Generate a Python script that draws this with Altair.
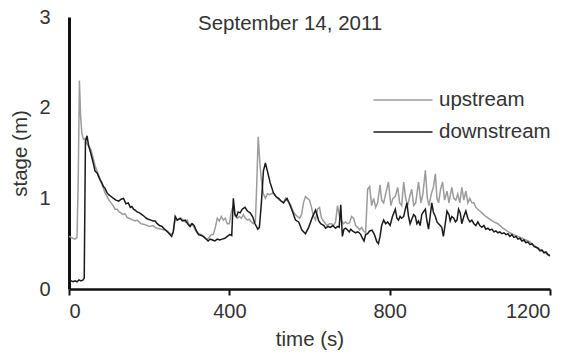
import altair as alt
import pandas as pd

FONT = "Liberation Sans"

# ---- upstream gauge (time in s, stage in m) ----
up_time = [
    0, 5, 10, 15, 20, 23, 26, 29, 32, 36,
    40, 45, 50, 55, 60, 65, 70, 75, 80, 85,
    90, 95, 100, 105, 110, 115, 120, 125, 130, 135,
    140, 145, 150, 160, 165, 170, 180, 190, 200, 210,
    215, 220, 230, 240, 250, 255, 260, 265, 270, 280,
    290, 295, 300, 305, 310, 315, 320, 330, 335, 340,
    345, 350, 355, 360, 365, 370, 375, 380, 385, 390,
    395, 400, 405, 410, 415, 420, 425, 430, 435, 440,
    445, 450, 455, 460, 465, 468, 472, 476, 480, 485,
    490, 495, 500, 505, 510, 515, 520, 525, 530, 535,
    540, 545, 550, 555, 560, 565, 570, 575, 580, 585,
    590, 595, 600, 605, 610, 615, 620, 625, 630, 635,
    640, 645, 650, 655, 660, 665, 670, 675, 680, 685,
    690, 695, 700, 705, 710, 715, 720, 725, 730, 735,
    740, 745, 750, 755, 760, 765, 770, 776, 780, 785,
    790, 797, 803, 808, 814, 820, 825, 830, 835, 840,
    845, 850, 855, 860, 865, 872, 878, 883, 889, 894,
    898, 904, 909, 914, 918, 922, 927, 932, 937, 943,
    948, 955, 960, 965, 970, 975, 980, 985, 990, 995,
    1000, 1005, 1010, 1015, 1020, 1025, 1030, 1040, 1050, 1060,
    1070, 1080, 1090, 1100, 1110, 1120, 1130, 1140, 1150, 1160,
    1170, 1180, 1190, 1200,
]
up_stage = [
    0.58, 0.57, 0.56, 0.55, 0.57, 1.20, 2.30, 1.90, 1.72, 1.65,
    1.66, 1.60, 1.57, 1.53, 1.45, 1.36, 1.30, 1.24, 1.18, 1.12,
    1.06, 1.02, 0.98, 0.95, 0.92, 0.88, 0.88, 0.85, 0.84, 0.82,
    0.83, 0.79, 0.78, 0.76, 0.75, 0.76, 0.72, 0.71, 0.69, 0.70,
    0.68, 0.67, 0.66, 0.65, 0.62, 0.60, 0.62, 0.78, 0.76, 0.78,
    0.74, 0.76, 0.70, 0.72, 0.70, 0.65, 0.62, 0.60, 0.58, 0.56,
    0.55, 0.57, 0.60, 0.60, 0.68, 0.78, 0.75, 0.80, 0.76, 0.78,
    0.72, 0.72, 0.85, 0.92, 0.80, 0.78, 0.80, 0.78, 0.82, 0.78,
    0.76, 0.77, 0.74, 0.72, 0.75, 1.10, 1.68, 1.40, 1.20, 1.05,
    1.00, 1.05, 1.04, 1.05, 1.06, 1.03, 1.00, 0.98, 0.97, 0.95,
    1.00, 0.97, 0.95, 0.90, 0.85, 0.82, 0.80, 0.78, 0.82, 0.95,
    1.02, 1.00, 0.98, 0.90, 0.80, 0.76, 0.88, 0.90, 0.78, 0.75,
    0.72, 0.70, 0.72, 0.72, 0.70, 0.74, 0.92, 0.80, 0.75, 0.72,
    0.74, 0.72, 0.73, 0.80, 0.78, 0.70, 0.68, 0.65, 0.68, 0.64,
    0.62, 1.10, 1.13, 0.92, 1.00, 0.90, 0.95, 1.15, 0.98, 0.95,
    1.05, 1.18, 0.92, 1.00, 1.02, 1.12, 0.95, 0.92, 1.18, 1.00,
    0.92, 1.02, 1.10, 0.92, 0.95, 1.18, 0.95, 1.05, 1.31, 1.00,
    0.92, 1.05, 1.12, 1.27, 1.00, 0.95, 1.10, 1.18, 0.98, 1.08,
    0.95, 1.12, 1.00, 0.98, 1.05, 0.95, 1.12, 0.98, 1.08, 0.95,
    1.00, 0.95, 0.95, 0.90, 0.88, 0.86, 0.84, 0.80, 0.77, 0.74,
    0.72, 0.68, 0.65, 0.62, 0.60, 0.58, 0.56, 0.54, 0.52, 0.48,
    0.45, 0.42, 0.39, 0.36,
]

# ---- downstream gauge ----
down_time = [
    0, 5, 10, 15, 20, 25, 30, 35, 38, 41,
    45, 49, 53, 57, 61, 65, 70, 74, 78, 82,
    86, 90, 95, 99, 105, 111, 117, 124, 130, 136,
    142, 148, 153, 157, 161, 165, 170, 176, 182, 188,
    193, 198, 204, 210, 215, 220, 226, 232, 238, 244,
    248, 252, 256, 260, 265, 270, 277, 283, 290, 296,
    302, 307, 312, 318, 323, 330, 335, 340, 347, 352,
    358, 364, 370, 376, 382, 389, 395, 401, 406, 410,
    414, 418, 422, 427, 432, 439, 445, 452, 458, 464,
    471, 475, 480, 485, 490, 495, 502, 510, 516, 523,
    529, 535, 540, 544, 548, 552, 558, 565, 573, 581,
    590, 598, 607, 615, 620, 623, 628, 632, 636, 640,
    646, 652, 658, 665, 670, 674, 678, 682, 686, 690,
    695, 699, 703, 707, 711, 715, 720, 724, 728, 732,
    736, 740, 745, 750, 756, 762, 768, 772, 776, 780,
    785, 790, 795, 801, 807, 814, 818, 822, 826, 830,
    835, 839, 843, 847, 851, 856, 860, 864, 868, 872,
    876, 880, 884, 889, 893, 897, 901, 905, 909, 914,
    918, 922, 926, 930, 934, 938, 943, 948, 951, 955,
    960, 964, 968, 972, 976, 980, 985, 990, 995, 1000,
    1005, 1010, 1015, 1020, 1025, 1030, 1035, 1040, 1045, 1050,
    1055, 1060, 1065, 1070, 1075, 1080, 1085, 1090, 1095, 1100,
    1105, 1110, 1115, 1120, 1125, 1130, 1135, 1140, 1145, 1150,
    1155, 1160, 1165, 1170, 1175, 1180, 1185, 1190, 1195, 1200,
]
down_stage = [
    0.08, 0.09, 0.08, 0.09, 0.08, 0.10, 0.09, 0.10, 0.12, 1.63,
    1.69, 1.58, 1.52, 1.45, 1.38, 1.30, 1.28, 1.24, 1.20, 1.17,
    1.13, 1.11, 1.06, 1.04, 1.02, 1.00, 0.98, 0.97, 0.99, 1.00,
    0.94, 0.95, 0.90, 0.91, 0.88, 0.87, 0.85, 0.84, 0.82, 0.80,
    0.78, 0.77, 0.76, 0.75, 0.75, 0.72, 0.70, 0.69, 0.66, 0.64,
    0.62, 0.60, 0.58, 0.63, 0.80, 0.76, 0.78, 0.75, 0.76, 0.72,
    0.69, 0.72, 0.70, 0.64, 0.60, 0.59, 0.58, 0.56, 0.53, 0.55,
    0.54, 0.53, 0.55, 0.54, 0.55, 0.56, 0.58, 0.60, 0.59, 1.00,
    0.82, 0.80, 0.85, 0.84, 0.88, 0.90, 0.86, 0.84, 0.80, 0.72,
    0.66, 0.68, 0.95, 1.30, 1.39, 1.30, 1.17, 1.06, 1.02, 1.00,
    0.97, 0.95, 0.98, 1.00, 0.96, 0.92, 0.85, 0.76, 0.74, 0.65,
    0.61, 0.68, 0.79, 0.87, 0.80, 0.75, 0.72, 0.71, 0.70, 0.67,
    0.69, 0.68, 0.70, 0.67, 0.69, 0.68, 0.93, 0.58, 0.66, 0.67,
    0.65, 0.63, 0.66, 0.64, 0.63, 0.62, 0.63, 0.62, 0.60, 0.56,
    0.53, 0.60, 0.61, 0.64, 0.65, 0.60, 0.52, 0.50, 0.58, 0.70,
    0.76, 0.72, 0.74, 0.70, 0.80, 0.88, 0.78, 0.76, 0.80, 0.78,
    0.80, 0.88, 0.95, 0.80, 0.72, 0.78, 0.82, 0.80, 0.72, 0.75,
    0.70, 0.82, 0.85, 0.88, 0.75, 0.66, 0.80, 0.95, 0.85, 0.80,
    0.74, 0.72, 0.70, 0.68, 0.58, 0.70, 0.86, 0.82, 0.75, 0.80,
    0.78, 0.74, 0.76, 0.88, 0.84, 0.72, 0.80, 0.86, 0.78, 0.74,
    0.76, 0.72, 0.70, 0.74, 0.70, 0.68, 0.70, 0.66, 0.67, 0.65,
    0.66, 0.63, 0.64, 0.62, 0.63, 0.61, 0.62, 0.60, 0.61, 0.58,
    0.60, 0.57, 0.58, 0.55, 0.56, 0.53, 0.54, 0.51, 0.52, 0.49,
    0.50, 0.47, 0.46, 0.45, 0.42, 0.43, 0.40, 0.41, 0.38, 0.37,
]

series_names = ["upstream", "downstream"]
series_colors = ["#9c9c9c", "#1a1a1a"]
x_ticks = [0, 400, 800, 1200]
y_ticks = [0, 1, 2, 3]
title_text = "September 14, 2011"

n_up = min(len(up_time), len(up_stage))
n_dn = min(len(down_time), len(down_stage))
up_df = pd.DataFrame({"time": up_time[:n_up], "stage": up_stage[:n_up], "series": series_names[0]})
dn_df = pd.DataFrame({"time": down_time[:n_dn], "stage": down_stage[:n_dn], "series": series_names[1]})

color = alt.Color(
    "series:N",
    scale=alt.Scale(domain=series_names, range=series_colors),
    legend=alt.Legend(
        title=None,
        orient="none",
        legendX=323,
        legendY=72,
        symbolType="M-2.95,0H2.95",
        symbolSize=400,
        symbolStrokeWidth=1.6,
        symbolFillColor="transparent",
        labelFontSize=20.5,
        labelFont=FONT,
        labelColor="#333333",
        labelOffset=25,
        rowPadding=10,
    ),
)

x = alt.X(
    "time:Q",
    scale=alt.Scale(domain=[0, 1200], nice=False),
    axis=alt.Axis(
        values=x_ticks,
        format="d",
        title="time (s)",
        domainWidth=2.5,
        tickSize=6,
        tickWidth=2,
        labelPadding=6,
        titlePadding=8,
    ),
)
y = alt.Y(
    "stage:Q",
    scale=alt.Scale(domain=[0, 3], nice=False),
    axis=alt.Axis(
        values=y_ticks,
        title="stage (m)",
        ticks=False,
        domainWidth=3,
        labelPadding=19,
        titlePadding=8,
    ),
)

up_line = alt.Chart(up_df).mark_line(strokeWidth=1.5).encode(x=x, y=y, color=color)
dn_line = alt.Chart(dn_df).mark_line(strokeWidth=1.5).encode(x=x, y=y, color=color)

chart = (
    alt.layer(up_line, dn_line)
    .properties(
        width=481,
        height=272,
        title=alt.TitleParams(
            text=title_text,
            anchor="start",
            frame="group",
            dx=129,
            offset=-27,
            fontSize=20.5,
            font=FONT,
            fontWeight="normal",
            color="#333333",
        ),
        padding={"left": 69, "top": 17, "right": 31, "bottom": 69},
        autosize=alt.AutoSizeParams(type="none"),
    )
    .configure_view(stroke=None)
    .configure_axis(
        grid=False,
        domainColor="#111111",
        tickColor="#111111",
        labelFont=FONT,
        labelFontSize=20,
        labelColor="#333333",
        titleFont=FONT,
        titleFontSize=20.5,
        titleFontWeight="normal",
        titleColor="#333333",
    )
)

chart.save("out.html", embed_options={"renderer": "svg", "actions": False})
